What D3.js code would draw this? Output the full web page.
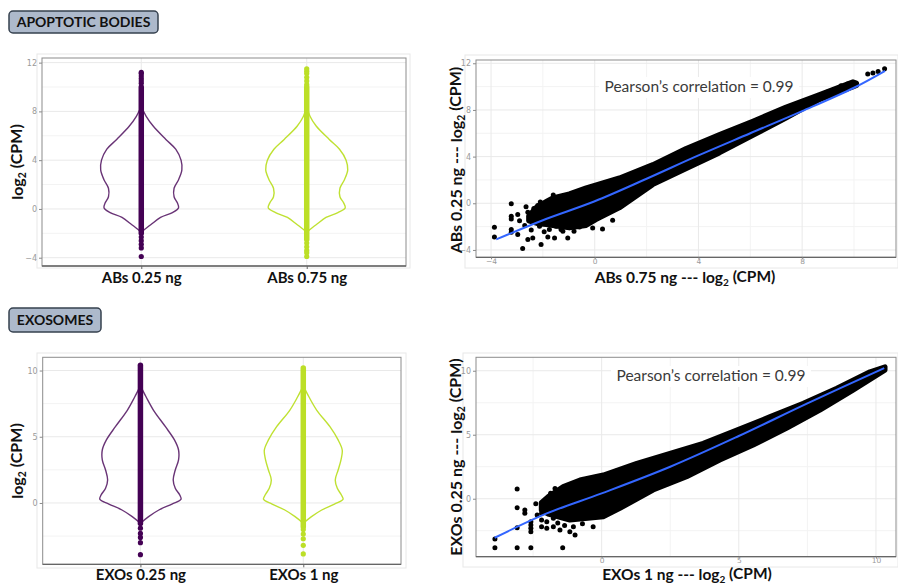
<!DOCTYPE html>
<html>
<head>
<meta charset="utf-8">
<script src="https://cdn.jsdelivr.net/npm/d3@7"></script>
<style>
  body { margin: 0; background: #fff; }
  svg { display: block; font-family: Lato, 'Open Sans', sans-serif; }
</style>
</head>
<body>
<div id="chart"></div>
<script>
// ---- data ----

// violin categories
const abCategories = ['ABs 0.25 ng', 'ABs 0.75 ng'];
const exCategories = ['EXOs 0.25 ng', 'EXOs 1 ng'];

// violin outlines: log2(CPM) levels and relative density at each level
const abViolinY = [8.4, 7.6, 6.8, 5.7, 4.9, 4.0, 3.2, 2.4, 1.7, 1.0, 0.5, 0.1, -0.3, -0.7, -1.3, -1.9];
const ab025Density = [0, 0.12, 0.29, 0.6, 0.84, 0.97, 0.99, 0.91, 0.8, 0.8, 0.88, 0.91, 0.76, 0.47, 0.23, 0];
const ab075Density = [0, 0.08, 0.23, 0.55, 0.8, 0.96, 1.0, 0.92, 0.81, 0.81, 0.9, 0.94, 0.76, 0.47, 0.23, 0];

const exViolinY = [8.84, 8.0, 7.0, 5.76, 4.76, 4.0, 3.25, 2.49, 1.74, 1.11, 0.6, 0.28, -0.08, -0.53, -1.03, -1.53];
const ex025Density = [0, 0.14, 0.32, 0.61, 0.83, 0.93, 0.93, 0.85, 0.8, 0.85, 0.96, 0.99, 0.77, 0.45, 0.2, 0];
const ex1Density = [0, 0.14, 0.33, 0.65, 0.85, 0.95, 0.92, 0.85, 0.78, 0.83, 0.93, 0.97, 0.76, 0.45, 0.2, 0];

// the points inside each violin: dense run (min, max) and separate dots
const ab025Dense = [-2.0, 10.0];
const ab025Dots = [10.3, 10.5, 10.7, 10.9, 11.1, 11.2, -2.3, -2.6, -2.9, -3.2, -3.9];
const ab075Dense = [-2.5, 10.0];
const ab075Dots = [10.2, 10.5, 10.8, 11.1, 11.3, 11.5, -2.8, -3.1, -3.4, -3.6, -3.9];
const ex025Dense = [-1.55, 10.4];
const ex025Dots = [-1.9, -2.3, -2.6, -3.0, -3.9];
const ex1Dense = [-1.8, 10.2];
const ex1Dots = [-2.0, -2.35, -2.7, -3.2, -3.85];

// scatter: edge of the dense cloud (upper and lower), loess fit, scattered points
const abCloudUpper = [[-2.55, -1.1], [-2.26, -0.35], [-1.87, 0.15], [-1.62, 0.46], [-0.98, 0.8], [-0.33, 1.32], [0.95, 2.17],
  [2.24, 3.31], [3.52, 4.69], [4.81, 5.88], [6.09, 7.03], [7.38, 8.25], [8.67, 9.31], [9.96, 10.4], [10.1, 10.3]];
const abCloudLower = [[-2.55, -1.5], [-2.2, -1.75], [-1.87, -1.82], [-1.62, -1.9], [-0.98, -2.11], [-0.33, -1.9], [0.05, -1.4],
  [0.95, -0.39], [2.24, 1.6], [3.52, 2.95], [4.81, 4.32], [6.09, 5.8], [7.38, 7.31], [8.67, 8.88], [9.96, 9.97], [10.1, 10.1]];
const abFitX = [-3.8, -2, 0, 2, 4, 6, 8, 10, 11.2];
const abFitY = [-3.1, -1.45, 0.17, 2.1, 4.1, 6.0, 7.9, 9.9, 11.35];
const abPoints = [[-3.87, -2.06], [-3.87, -2.88], [-3.22, -0.03], [-3.22, -1.11], [-3.22, -1.34], [-3.22, -2.25],
  [-3.22, -2.48], [-2.97, -0.97], [-2.97, -2.68], [-2.78, -3.88], [-2.58, -0.77], [-2.58, -3.11], [-2.39, -2.97],
  [-2.2, -0.2], [-2.07, -3.54], [-1.81, -2.88], [-1.55, -2.97], [-1.23, -2.4], [-1.04, -2.97], [-0.59, -2.03],
  [-0.08, -2.11], [0.69, -1.46], [-2.26, -0.82], [-2.0, -1.54], [-1.75, -2.25], [-1.49, -1.97], [-2.13, -1.97],
  [-2.7, -1.9], [-2.45, -2.3], [-2.9, -1.5], [-2.35, -0.45], [-1.95, -2.45], [-1.3, -2.25], [-0.8, -2.4],
  [-2.65, -0.3], [-2.1, 0.1], [-1.6, 0.7], [0.3, -2.2],
  [8.15, 8.65], [8.95, 9.51], [9.5, 10.08], [9.75, 10.22], [9.96, 10.37], [10.53, 11.08], [10.73, 11.16],
  [10.93, 11.3], [11.18, 11.53]];

const exCloudUpper = [[-2.2, -0.3], [-1.95, 0.16], [-1.4, 0.94], [-0.79, 1.46], [0.06, 1.85], [1.28, 2.77], [2.49, 3.55],
  [3.7, 4.33], [4.92, 5.37], [6.14, 6.41], [7.35, 7.45], [8.57, 8.63], [9.78, 9.92], [10.33, 10.31]];
const exCloudLower = [[-2.2, -0.9], [-1.95, -1.2], [-1.16, -1.66], [0.06, -1.41], [0.67, -0.75], [1.88, 0.68], [3.1, 1.72],
  [4.31, 3.02], [5.53, 4.2], [6.74, 5.5], [7.96, 6.93], [9.17, 8.49], [10.33, 10.05]];
const exFitX = [-3.9, -2, 0, 2.5, 5, 7.5, 10.3];
const exFitY = [-3.05, -1.15, 0.42, 2.5, 4.9, 7.45, 10.2];
const exPoints = [[-3.89, -3.15], [-3.89, -3.83], [-3.08, 0.76], [-3.08, -0.7], [-3.08, -2.27], [-3.08, -3.83],
  [-2.8, -0.88], [-2.8, -1.14], [-2.58, -1.8], [-2.58, -2.05], [-2.58, -2.31], [-2.58, -2.58], [-2.58, -3.83],
  [-2.35, -1.27], [-2.19, -0.63], [-2.19, -1.14], [-2.19, -1.66], [-2.19, -2.19], [-2.0, -0.88], [-2.0, -1.8],
  [-2.0, -2.31], [-1.86, 0.42], [-1.86, -0.1], [-1.76, -1.53], [-1.76, -2.19], [-1.52, -2.45], [-1.42, -3.83],
  [-1.25, 0.99], [-1.16, -2.58], [-0.97, -2.84], [-1.03, -2.19], [-0.31, -2.19], [0.55, 2.16],
  [-1.6, -1.9], [-1.35, -2.1], [-0.7, -1.95], [-2.4, -0.4], [-1.7, 0.8]];

// colours
const purple = '#440154';
const lime = '#bcdf27';

// ---- drawing ----
const width = 898;
const height = 584;

const svg = d3.select('#chart')
  .append('svg')
  .attr('width', width)
  .attr('height', height);

// section labels (grey rounded boxes)
function sectionLabel(x, y, w, h, text) {
  const g = svg.append('g');
  g.append('rect')
    .attr('x', x).attr('y', y).attr('width', w).attr('height', h)
    .attr('rx', 4)
    .attr('fill', '#adb9cb')
    .attr('stroke', '#36414f')
    .attr('stroke-width', 1.5);
  g.append('text')
    .attr('x', x + w / 2).attr('y', y + h / 2 + 5)
    .attr('text-anchor', 'middle')
    .attr('font-size', 14)
    .attr('font-weight', 700)
    .attr('fill', '#111')
    .text(text);
}

// axis title with subscript 2 in "log2"
function log2Title(sel, before, after) {
  sel.append('tspan').text(before + 'log');
  sel.append('tspan').attr('font-size', '0.65em').attr('dy', '0.25em').text('2');
  sel.append('tspan').attr('dy', '-0.25em').text(after);
}

function styleTicks(axisG, size) {
  axisG.select('.domain').remove();
  axisG.selectAll('.tick line').attr('stroke', '#8a8a8a');
  axisG.selectAll('.tick text')
    .attr('fill', '#9a9a9a')
    .attr('font-size', size || 8)
    .attr('font-family', 'DejaVu Sans, sans-serif');
}

function panelBackground(g, p, outer) {
  g.append('rect')
    .attr('x', outer[0]).attr('y', outer[1])
    .attr('width', outer[2] - outer[0]).attr('height', outer[3] - outer[1])
    .attr('fill', '#fff').attr('stroke', '#e8e8e8');
  g.append('rect')
    .attr('x', p.left).attr('y', p.top)
    .attr('width', p.right - p.left).attr('height', p.bottom - p.top)
    .attr('fill', '#fff');
}

function panelBorder(g, p) {
  g.append('rect')
    .attr('x', p.left).attr('y', p.top)
    .attr('width', p.right - p.left).attr('height', p.bottom - p.top)
    .attr('fill', 'none').attr('stroke', '#8c8c8c').attr('stroke-width', 1);
  g.append('line')
    .attr('x1', p.left).attr('x2', p.right)
    .attr('y1', p.bottom).attr('y2', p.bottom)
    .attr('stroke', '#666').attr('stroke-width', 1.3);
}

function drawViolins(opts) {
  const p = opts.panel;
  const g = svg.append('g');
  const y = d3.scaleLinear().domain(opts.yDomain).range([p.bottom, p.top]);
  const x = d3.scalePoint().domain(opts.categories).range([p.left, p.right]).padding(0.6);
  const w = d3.scaleLinear().domain([0, 1]).range([0, 41]);

  panelBackground(g, p, opts.outer);

  // grid
  g.selectAll('.minor').data(opts.yMinor).join('line')
    .attr('x1', p.left).attr('x2', p.right)
    .attr('y1', d => y(d)).attr('y2', d => y(d))
    .attr('stroke', '#f3f3f3');
  g.selectAll('.major').data(opts.yTicks).join('line')
    .attr('x1', p.left).attr('x2', p.right)
    .attr('y1', d => y(d)).attr('y2', d => y(d))
    .attr('stroke', '#e9e9e9');
  g.selectAll('.vgrid').data(opts.categories).join('line')
    .attr('x1', d => x(d)).attr('x2', d => x(d))
    .attr('y1', p.top).attr('y2', p.bottom)
    .attr('stroke', '#e9e9e9');

  opts.series.forEach((s, i) => {
    const cx = x(opts.categories[i]);
    const rows = s.ys.map((v, j) => ({ v: v, d: s.dens[j] }));
    const area = d3.area()
      .curve(d3.curveCatmullRom)
      .y(d => y(d.v))
      .x0(d => cx - w(d.d))
      .x1(d => cx + w(d.d));
    g.append('path')
      .attr('d', area(rows))
      .attr('fill', 'none')
      .attr('stroke', s.color)
      .attr('stroke-opacity', s.lineOpacity)
      .attr('stroke-width', 1.4);

    // points
    g.append('line')
      .attr('x1', cx).attr('x2', cx)
      .attr('y1', y(s.dense[0])).attr('y2', y(s.dense[1]))
      .attr('stroke', s.color)
      .attr('stroke-width', 5.5)
      .attr('stroke-linecap', 'round');
    g.selectAll(null).data(s.dots).join('circle')
      .attr('cx', cx).attr('cy', d => y(d))
      .attr('r', 2.6)
      .attr('fill', s.color);
  });

  panelBorder(g, p);

  const axisY = g.append('g')
    .attr('transform', `translate(${p.left}, 0)`)
    .call(d3.axisLeft(y).tickValues(opts.yTicks).tickSize(3).tickPadding(2));
  styleTicks(axisY);

  const axisX = g.append('g')
    .attr('transform', `translate(0, ${p.bottom})`)
    .call(d3.axisBottom(x).tickSize(3).tickPadding(opts.labelPad));
  axisX.select('.domain').remove();
  axisX.selectAll('.tick line').attr('stroke', '#666');
  axisX.selectAll('.tick text')
    .attr('fill', '#111')
    .attr('font-size', 15)
    .attr('font-weight', 700)
    .attr('font-family', 'Lato, sans-serif');

  const yt = g.append('text')
    .attr('transform', `translate(23, ${opts.yTitleY}) rotate(-90)`)
    .attr('text-anchor', 'middle')
    .attr('font-size', 16)
    .attr('font-weight', 700)
    .attr('fill', '#111');
  log2Title(yt, '', ' (CPM)');
}

function drawScatter(opts) {
  const p = opts.panel;
  const g = svg.append('g');
  const x = d3.scaleLinear().domain(opts.xDomain).range([p.left, p.right]);
  const y = d3.scaleLinear().domain(opts.yDomain).range([p.bottom, p.top]);

  panelBackground(g, p, opts.outer);

  g.selectAll('.yminor').data(opts.yMinor).join('line')
    .attr('x1', p.left).attr('x2', p.right)
    .attr('y1', d => y(d)).attr('y2', d => y(d))
    .attr('stroke', '#f3f3f3');
  g.selectAll('.xminor').data(opts.xMinor).join('line')
    .attr('x1', d => x(d)).attr('x2', d => x(d))
    .attr('y1', p.top).attr('y2', p.bottom)
    .attr('stroke', '#f3f3f3');
  g.selectAll('.ymajor').data(opts.yTicks).join('line')
    .attr('x1', p.left).attr('x2', p.right)
    .attr('y1', d => y(d)).attr('y2', d => y(d))
    .attr('stroke', '#e9e9e9');
  g.selectAll('.xmajor').data(opts.xTicks).join('line')
    .attr('x1', d => x(d)).attr('x2', d => x(d))
    .attr('y1', p.top).attr('y2', p.bottom)
    .attr('stroke', '#e9e9e9');

  // label background
  g.append('rect')
    .attr('x', opts.labelX - 100).attr('y', opts.labelY - 15)
    .attr('width', 200).attr('height', 21)
    .attr('fill', '#fff');
  g.append('text')
    .attr('x', opts.labelX).attr('y', opts.labelY)
    .attr('text-anchor', 'middle')
    .attr('font-size', 15.5)
    .attr('fill', '#3a3a3a')
    .text('Pearson’s correlation = 0.99');

  // dense cloud drawn as its outline, then the loose points
  const cloud = opts.upper.concat(opts.lower.slice().reverse());
  const cloudLine = d3.line()
    .x(d => x(d[0]))
    .y(d => y(d[1]))
    .curve(d3.curveLinearClosed);
  g.append('path')
    .attr('d', cloudLine(cloud))
    .attr('fill', '#000')
    .attr('stroke', '#000')
    .attr('stroke-width', 5)
    .attr('stroke-linejoin', 'round');
  g.selectAll(null).data(opts.points).join('circle')
    .attr('cx', d => x(d[0])).attr('cy', d => y(d[1]))
    .attr('r', 2.5)
    .attr('fill', '#000');

  const fit = opts.fitX.map((v, i) => [v, opts.fitY[i]]);
  g.append('path')
    .attr('d', d3.line().x(d => x(d[0])).y(d => y(d[1])).curve(d3.curveCatmullRom)(fit))
    .attr('fill', 'none')
    .attr('stroke', '#3366ff')
    .attr('stroke-width', 2);

  panelBorder(g, p);

  const axisY = g.append('g')
    .attr('transform', `translate(${p.left}, 0)`)
    .call(d3.axisLeft(y).tickValues(opts.yTicks).tickSize(3).tickPadding(2));
  styleTicks(axisY);
  const axisX = g.append('g')
    .attr('transform', `translate(0, ${p.bottom})`)
    .call(d3.axisBottom(x).tickValues(opts.xTicks).tickSize(2).tickPadding(-1));
  styleTicks(axisX, 7.5);

  const xt = g.append('text')
    .attr('x', opts.xTitleX).attr('y', opts.xTitleY)
    .attr('text-anchor', 'middle')
    .attr('font-size', 15.5)
    .attr('font-weight', 700)
    .attr('fill', '#111');
  log2Title(xt, opts.xName + ' --- ', ' (CPM)');

  const yt = g.append('text')
    .attr('transform', `translate(462, ${opts.yTitleY}) rotate(-90)`)
    .attr('text-anchor', 'middle')
    .attr('font-size', 16)
    .attr('font-weight', 700)
    .attr('fill', '#111');
  log2Title(yt, opts.yName + ' --- ', ' (CPM)');
}

sectionLabel(9, 11, 149, 22, 'APOPTOTIC BODIES');
sectionLabel(9, 308, 92, 24, 'EXOSOMES');

drawViolins({
  panel: { left: 42, right: 406, top: 58, bottom: 266 },
  outer: [37, 54, 410, 268],
  yDomain: [-4.68, 12.38],
  yTicks: [-4, 0, 4, 8, 12],
  yMinor: [-2, 2, 6, 10],
  categories: abCategories,
  labelPad: 3,
  yTitleY: 162,
  series: [
    { ys: abViolinY, dens: ab025Density, dense: ab025Dense, dots: ab025Dots, color: purple, lineOpacity: 0.8 },
    { ys: abViolinY, dens: ab075Density, dense: ab075Dense, dots: ab075Dots, color: lime, lineOpacity: 0.95 }
  ]
});

drawViolins({
  panel: { left: 42.7, right: 401, top: 357.3, bottom: 564.3 },
  outer: [37, 353, 406, 568],
  yDomain: [-4.63, 11.0],
  yTicks: [0, 5, 10],
  yMinor: [-2.5, 2.5, 7.5],
  categories: exCategories,
  labelPad: 2,
  yTitleY: 461,
  series: [
    { ys: exViolinY, dens: ex025Density, dense: ex025Dense, dots: ex025Dots, color: purple, lineOpacity: 0.8 },
    { ys: exViolinY, dens: ex1Density, dense: ex1Dense, dots: ex1Dots, color: lime, lineOpacity: 0.95 }
  ]
});

drawScatter({
  panel: { left: 476, right: 896, top: 60, bottom: 257.3 },
  outer: [465, 55, 898, 268],
  xDomain: [-4.58, 11.62],
  yDomain: [-4.63, 12.28],
  xTicks: [-4, 0, 4, 8],
  xMinor: [-2, 2, 6, 10],
  yTicks: [-4, 0, 4, 8, 12],
  yMinor: [-2, 2, 6, 10],
  upper: abCloudUpper,
  lower: abCloudLower,
  points: abPoints,
  fitX: abFitX,
  fitY: abFitY,
  labelX: 699,
  labelY: 92,
  xName: 'ABs 0.75 ng',
  yName: 'ABs 0.25 ng',
  xTitleX: 685,
  xTitleY: 283,
  yTitleY: 160
});

drawScatter({
  panel: { left: 476, right: 896, top: 357.3, bottom: 556.7 },
  outer: [463, 353, 898, 567],
  xDomain: [-4.58, 10.73],
  yDomain: [-4.53, 11.05],
  xTicks: [0, 5, 10],
  xMinor: [-2.5, 2.5, 7.5],
  yTicks: [0, 5, 10],
  yMinor: [-2.5, 2.5, 7.5],
  upper: exCloudUpper,
  lower: exCloudLower,
  points: exPoints,
  fitX: exFitX,
  fitY: exFitY,
  labelX: 711,
  labelY: 381,
  xName: 'EXOs 1 ng',
  yName: 'EXOs 0.25 ng',
  xTitleX: 687,
  xTitleY: 580,
  yTitleY: 457
});
</script>
</body>
</html>
